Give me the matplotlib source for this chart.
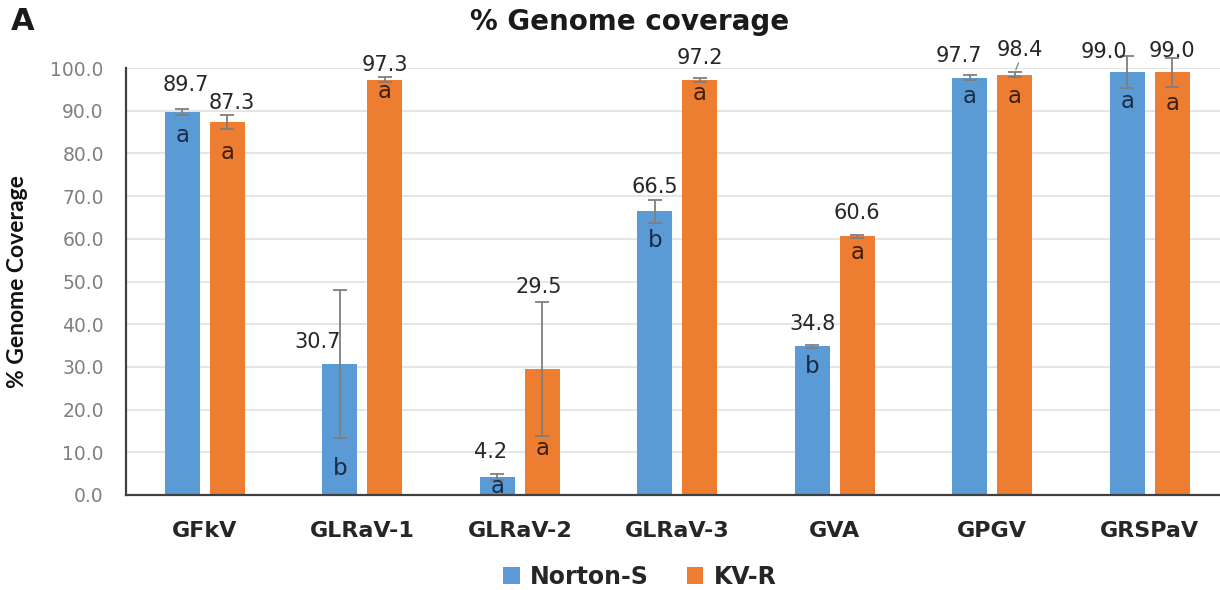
import matplotlib
matplotlib.use("Agg")
import matplotlib.pyplot as plt
import numpy as np

categories = ["GFkV", "GLRaV-1", "GLRaV-2", "GLRaV-3", "GVA", "GPGV", "GRSPaV"]
norton_s = [89.7, 30.7, 4.2, 66.5, 34.8, 97.7, 99.0]
kv_r = [87.3, 97.3, 29.5, 97.2, 60.6, 98.4, 99.0]
norton_err = [0.8, 17.3, 0.8, 2.7, 0.3, 0.6, 3.8]
kv_err = [1.7, 0.5, 15.6, 0.5, 0.4, 0.6, 3.4]
norton_letters = ["a", "b", "a", "b", "b", "a", "a"]
kv_letters = ["a", "a", "a", "a", "a", "a", "a"]
series_names = ["Norton-S", "KV-R"]

# annotation placement (data-y of labels, x shifts in category units)
norton_label_y = [96.0, 35.8, 10.1, 72.1, 40.0, 102.8, 103.8]
kv_label_y = [91.9, 100.7, 48.8, 102.3, 66.0, 104.2, 104.0]
norton_label_dx = [0.02, -0.14, -0.04, 0.0, 0.0, -0.07, -0.15]
kv_label_dx = [0.03, 0.0, -0.02, 0.0, 0.0, 0.03, 0.0]
norton_letter_y = [84.3, 6.3, 2.1, 59.7, 30.0, 93.4, 92.1]
kv_letter_y = [80.3, 94.4, 11.0, 94.1, 56.7, 93.4, 91.7]

BLUE = "#5B9BD5"
ORANGE = "#ED7D31"
ERR = "#7f7f7f"

fig = plt.figure(figsize=(12.2, 5.9), dpi=100)
ax = fig.add_axes([126 / 1220, 95 / 590, 1 - 126 / 1220, (495 - 68) / 590])

x = np.arange(len(categories))
off = 0.143
w = 0.222

b1 = ax.bar(x - off, norton_s, w, color=BLUE, zorder=2, label=series_names[0])
b2 = ax.bar(x + off, kv_r, w, color=ORANGE, zorder=2, label=series_names[1])
for xs, ys, es in [(x - off, norton_s, norton_err), (x + off, kv_r, kv_err)]:
    eb = ax.errorbar(xs, ys, yerr=es, fmt="none", ecolor=ERR,
                     elinewidth=1.3, capsize=5, capthick=1.3, zorder=3)
    for art in eb.lines[1] + eb.lines[2]:
        art.set_clip_on(False)

for i in range(len(categories)):
    ax.text(x[i] - off + norton_label_dx[i], norton_label_y[i], f"{norton_s[i]:.1f}",
            ha="center", va="center", fontsize=15, color="#262626", clip_on=False)
    ax.text(x[i] + off + kv_label_dx[i], kv_label_y[i], f"{kv_r[i]:.1f}",
            ha="center", va="center", fontsize=15, color="#262626", clip_on=False)
    ax.text(x[i] - off, norton_letter_y[i], norton_letters[i], ha="center", va="center",
            fontsize=16.5, color="#1c2b45", zorder=4)
    ax.text(x[i] + off, kv_letter_y[i], kv_letters[i], ha="center", va="center",
            fontsize=16.5, color="#3d1f0c", zorder=4)

# small leader line for GPGV KV-R label
ax.annotate("", xy=(x[5] + off, kv_r[5] + kv_err[5]), xytext=(x[5] + off + 0.03, kv_label_y[5] - 2.4),
            arrowprops=dict(arrowstyle="-", color=ERR, lw=0.9), annotation_clip=False)

ax.set_xlim(-0.5, 6.446)
ax.set_ylim(0, 100)
ax.set_yticks(np.arange(0, 101, 10))
ax.set_yticklabels([f"{v:.1f}" for v in np.arange(0, 101, 10)])
ax.set_xticks(x)
ax.set_xticklabels(categories, fontsize=16, fontweight="bold", color="#262626")
ax.tick_params(axis="y", length=0, pad=16, labelsize=13.5, labelcolor="#808080")
ax.tick_params(axis="x", length=0, pad=19)

ax.grid(axis="y", color="#e0e0e0", linewidth=1.2, zorder=0)
ax.set_axisbelow(True)
for s in ["top", "right"]:
    ax.spines[s].set_visible(False)
for s in ["left", "bottom"]:
    ax.spines[s].set_color("#404040")
    ax.spines[s].set_linewidth(1.6)

ax.set_ylabel("% Genome Coverage", fontsize=16.5, fontweight="bold", family="Lato",
              color="#111111")
ax.yaxis.set_label_coords((28 - 126) / 1094, 0.5)

fig.text(630 / 1220, 1 - 22 / 590, "% Genome coverage", ha="center", va="center",
         fontsize=20, fontweight="bold", color="#1a1a1a")
fig.text(11 / 1220, 1 - 22 / 590, "A", ha="left", va="center",
         fontsize=22, fontweight="bold", color="#1a1a1a")

leg = fig.legend(handles=[b1, b2], labels=series_names, loc="center",
                 bbox_to_anchor=(640 / 1220, 1 - 577 / 590), ncol=2, frameon=False,
                 prop=dict(size=17, weight="bold"), handlelength=0.7, handleheight=0.7,
                 handletextpad=0.45, columnspacing=1.6)
for t in leg.get_texts():
    t.set_color("#262626")

fig.savefig("out.png", dpi=100)
